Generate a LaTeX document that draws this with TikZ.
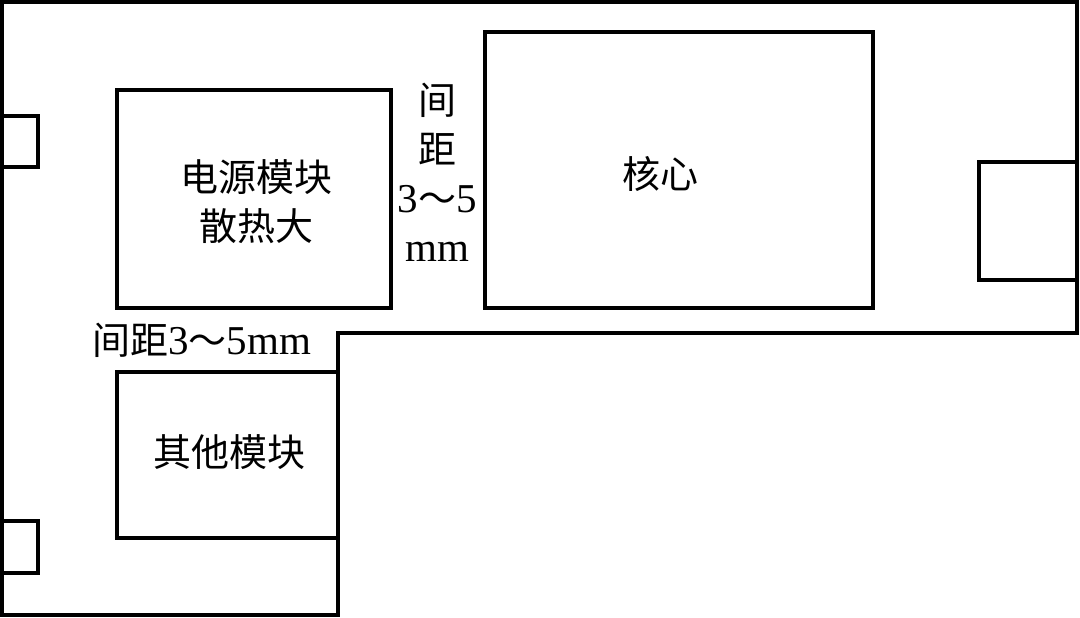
\documentclass[tikz,border=0pt]{standalone}
\usepackage{fontspec}
\setmainfont{Liberation Serif}
\newfontfamily\cjk{Noto Sans CJK SC}
\newcommand{\latn}[1]{{\fontsize{41}{49}\selectfont\rmfamily #1}}
\begin{document}
\begin{tikzpicture}[x=1pt,y=-1pt,
  wall/.style={line width=3.8pt,line join=miter},
  box/.style={draw,line width=3.8pt,inner sep=0pt,outer sep=0pt},
  lbl/.style={inner sep=0pt,font=\fontsize{38}{49}\selectfont\cjk,align=center}]
\useasboundingbox (0,0) rectangle (1080,618);
% outline of the board
\draw[wall] (2,2) -- (1077,2) -- (1077,333) -- (338,333) -- (338,615) -- (2,615) -- cycle;
% boxes
\node[box,minimum width=274pt,minimum height=218pt] (power) at (254,199) {};
\node[box,minimum width=388pt,minimum height=276pt] (core) at (679,170) {};
\node[box,minimum width=221pt,minimum height=166pt] (other) at (227.5,455) {};
\node[box,minimum width=98pt,minimum height=118pt] (conR) at (1028,221) {};
\node[box,minimum width=36pt,minimum height=51pt] (conL1) at (20,141.5) {};
\node[box,minimum width=36pt,minimum height=52pt] (conL2) at (20,547) {};
% texts
\node[lbl] (tp) at (256,202) {电源模块\\散热大};
\node[lbl] (tc) at (660,174) {核心};
\node[lbl] (to) at (229,452) {其他模块};
\node[lbl] (tg1) at (437,172) {间\\距\\\latn{3}～\latn{5}\\\latn{mm}};
\node[lbl,anchor=west] (tg2) at (92,340) {间距\latn{3}～\latn{5mm}};
\end{tikzpicture}
\end{document}
